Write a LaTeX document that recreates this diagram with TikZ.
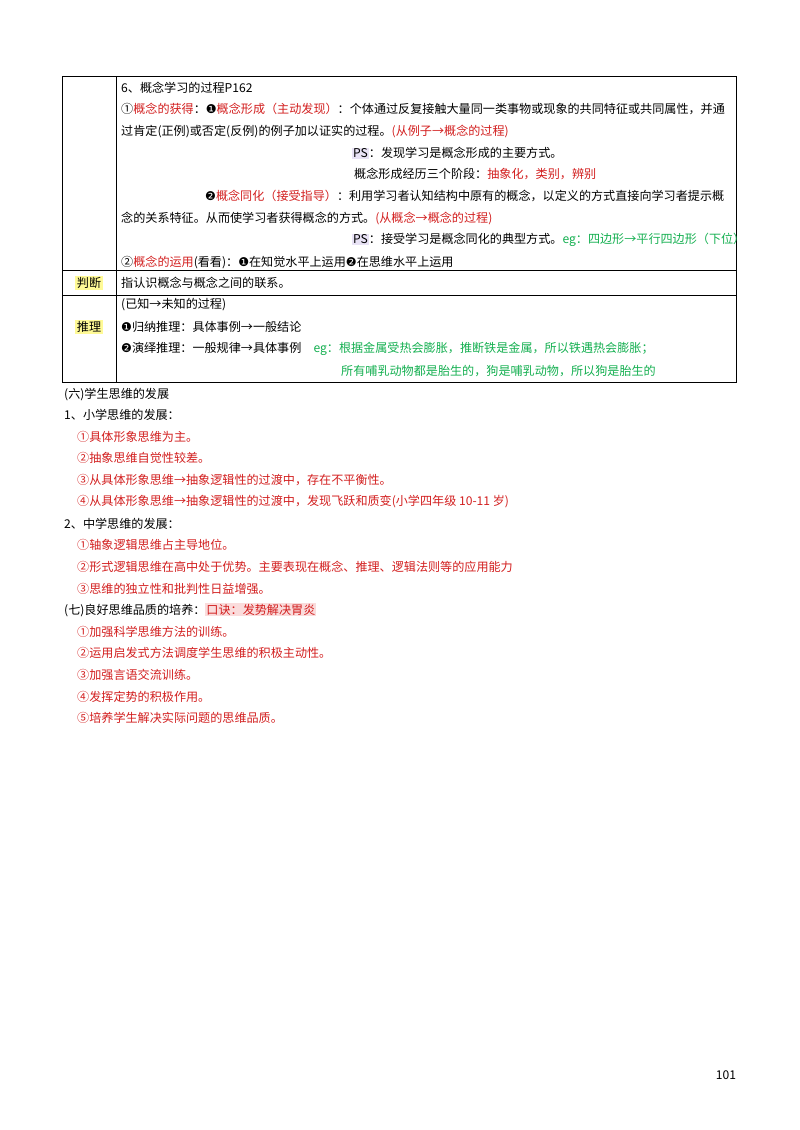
\documentclass[tikz,border=0pt]{standalone}
\usepackage{fontspec}
\setmainfont{Noto Sans CJK SC}
\newfontfamily\symf{DejaVu Sans}
\usepackage{xcolor}
\definecolor{redtxt}{RGB}{210,30,30}
\definecolor{greentxt}{RGB}{20,175,80}
\definecolor{pslav}{RGB}{232,226,245}
\definecolor{hlyel}{RGB}{255,250,150}
\definecolor{hlpink}{RGB}{250,220,220}
\newcommand{\rd}[1]{\textcolor{redtxt}{#1}}
\newcommand{\gr}[1]{\textcolor{greentxt}{#1}}
\newcommand{\one}{{\symf\char"2776}}
\newcommand{\two}{{\symf\char"2777}}
\newcommand{\psbox}{\colorbox{pslav}{PS}}
\setlength{\fboxsep}{1pt}

\begin{document}
\begin{tikzpicture}[
x=1pt,y=-1pt,
every node/.style={inner sep=0pt,font=\fontsize{12.1}{14}\selectfont},
line/.style={anchor=west},
grid/.style={line width=0.6pt},
hl/.style={inner sep=1.5pt}]
\useasboundingbox (0,0) rectangle (800,1130);
%table frame
  \draw[grid] (62,76) rectangle (736,382);
  \draw[grid] (116,76) -- (116,382);
  \draw[grid] (62,270) -- (736,270);
  \draw[grid] (62,295) -- (736,295);
%left labels
  \node[hl,fill=hlyel] (judge) at (89,283) {判断};
  \node[hl,fill=hlyel] (infer) at (89,327) {推理};
%row 1
  \node[line] (r1) at (121,88) {6、概念学习的过程P162};
  \node[line] (r2) at (121,109) {①\rd{概念的获得}：\one\rd{概念形成（主动发现）}：个体通过反复接触大量同一类事物或现象的共同特征或共同属性，并通};
  \node[line] (r3) at (121,131) {过肯定(正例)或否定(反例)的例子加以证实的过程。\rd{(从例子→概念的过程)}};
  \node[line] (r4) at (352,153) {\psbox：发现学习是概念形成的主要方式。};
  \node[line] (r5) at (354,174) {概念形成经历三个阶段：\rd{抽象化，类别，辨别}};
  \node[line] (r6) at (205,196) {\two\rd{概念同化（接受指导）}：利用学习者认知结构中原有的概念，以定义的方式直接向学习者提示概};
  \node[line] (r7) at (121,218) {念的关系特征。从而使学习者获得概念的方式。\rd{(从概念→概念的过程)}};
  \node[line] (r8) at (352,240) {\psbox：接受学习是概念同化的典型方式。\gr{eg：四边形→平行四边形（下位）}};
  \node[line] (r9) at (121,262) {②\rd{概念的运用}(看看)：\one 在知觉水平上运用\two 在思维水平上运用};
%row 2
  \node[line] (j1) at (121,283) {指认识概念与概念之间的联系。};
%row 3
  \node[line] (i1) at (121,305) {(已知→未知的过程)};
  \node[line] (i2) at (121,327) {\one 归纳推理：具体事例→一般结论};
  \node[line] (i3) at (121,349) {\two 演绎推理：一般规律→具体事例\quad\gr{eg：根据金属受热会膨胀，推断铁是金属，所以铁遇热会膨胀；}};
  \node[line] (i4) at (341,371) {\gr{所有哺乳动物都是胎生的，狗是哺乳动物，所以狗是胎生的}};
%below the table
  \node[line] (s6) at (64,395) {(六)学生思维的发展};
  \node[line] (p1) at (64,415) {1、小学思维的发展：};
  \node[line] (p11) at (77,437) {\rd{①具体形象思维为主。}};
  \node[line] (p12) at (77,458) {\rd{②抽象思维自觉性较差。}};
  \node[line] (p13) at (77,480) {\rd{③从具体形象思维→抽象逻辑性的过渡中，存在不平衡性。}};
  \node[line] (p14) at (77,502) {\rd{④从具体形象思维→抽象逻辑性的过渡中，发现飞跃和质变(小学四年级 10-11 岁)}};
  \node[line] (p2) at (64,524) {2、中学思维的发展：};
  \node[line] (p21) at (77,545) {\rd{①轴象逻辑思维占主导地位。}};
  \node[line] (p22) at (77,567) {\rd{②形式逻辑思维在高中处于优势。主要表现在概念、推理、逻辑法则等的应用能力}};
  \node[line] (p23) at (77,589) {\rd{③思维的独立性和批判性日益增强。}};
  \node[line] (s7) at (64,610) {(七)良好思维品质的培养：\colorbox{hlpink}{\rd{口诀：发势解决胃炎}}};
  \node[line] (q1) at (77,632) {\rd{①加强科学思维方法的训练。}};
  \node[line] (q2) at (77,653) {\rd{②运用启发式方法调度学生思维的积极主动性。}};
  \node[line] (q3) at (77,675) {\rd{③加强言语交流训练。}};
  \node[line] (q4) at (77,697) {\rd{④发挥定势的积极作用。}};
  \node[line] (q5) at (77,718) {\rd{⑤培养学生解决实际问题的思维品质。}};
%page number
  \node (page) at (726,1075) {101};
\end{tikzpicture}
\end{document}
